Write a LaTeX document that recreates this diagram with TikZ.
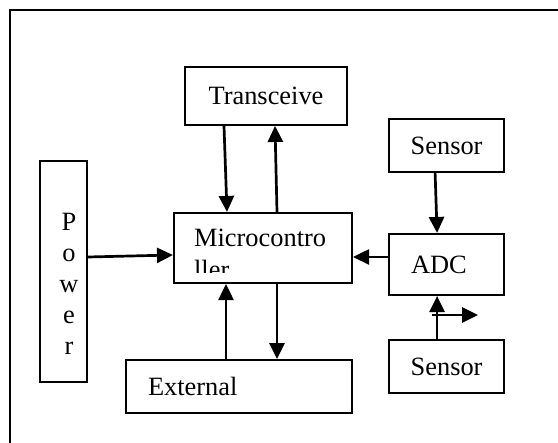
\documentclass[tikz,border=0pt]{standalone}
\usepackage{fontspec}
\setmainfont{Liberation Serif}
\usepackage{tikz}
\usetikzlibrary{positioning, arrows.meta}

\begin{document}
\begin{tikzpicture}[
        x=1pt, y=-1pt,
        block/.style={rectangle, draw=black, line width=2.1pt, fill=white, align=center, font=\fontsize{26.4pt}{31pt}\selectfont},
        leftblock/.style={block, align=left, inner xsep=22pt},
        arrow/.style={-{Triangle[length=16pt, width=15pt]}, line width=2.7pt, draw=black},
        frame/.style={line width=2pt, draw=black}
    ]
        \useasboundingbox (0,0) rectangle (558,443);
        \draw[frame] (10,443) -- (10,10) -- (558,10);

        % --- NODES ---
        \node[block, minimum width=178pt, minimum height=70pt] (mcu) at (263,248) {};
        \node[block, minimum width=162pt, minimum height=58pt, above=86pt of mcu, xshift=3pt] (trx) {Transceive};
        \node[block, minimum width=47pt, minimum height=221pt, left=85pt of mcu, yshift=-23.5pt] (power) {};
        \node[leftblock, text width=71pt, minimum height=61pt, right=35pt of mcu, yshift=-16.5pt] (adc) {ADC};
        \node[block, minimum width=115pt, minimum height=53pt, above=60pt of adc] (sensa) {Sensor};
        \node[block, minimum width=115pt, minimum height=53pt, below=43pt of adc] (sensb) {Sensor};
        \node[leftblock, text width=182pt, minimum height=53pt, below=75pt of mcu, xshift=-24pt] (ext) {External};

        % --- TEXT INSIDE TALL / CLIPPED BOXES ---
        \node[anchor=north, align=center, inner sep=0pt, font=\fontsize{26.4pt}{31pt}\selectfont]
            (powertext) at ([xshift=5.5pt, yshift=-53.5pt]power.north) {P\\o\\w\\e\\r};
        \begin{scope}
            \clip (mcu.north west) rectangle ([yshift=12pt]mcu.south east);
            \node[anchor=north west, align=left, inner sep=0pt, font=\fontsize{26.4pt}{32pt}\selectfont]
                (mcutext) at ([xshift=21pt, yshift=-17pt]mcu.north west) {Microcontro\\ller};
        \end{scope}

        % --- ARROWS ---
        % Transceiver link
        \draw[arrow] ([xshift=-42pt]trx.south) -- ([xshift=-36pt]mcu.north);
        \draw[arrow] ([xshift=14pt]mcu.north) -- ([xshift=9pt]trx.south);

        % Power and ADC into the controller
        \draw[arrow] ([yshift=14.5pt]power.east) -- ([yshift=-7pt]mcu.west);
        \draw[arrow] ([yshift=7.5pt]adc.west) -- ([yshift=-9pt]mcu.east);

        % Sensors into the ADC
        \draw[arrow] ([xshift=-11.5pt]sensa.south) -- ([xshift=-9.5pt]adc.north);
        \draw[arrow] ([xshift=-9.5pt]sensb.north) -- ([xshift=-9.5pt]adc.south);

        % External link
        \draw[arrow] ([xshift=-13pt]ext.north) -- ([xshift=-37pt]mcu.south);
        \draw[arrow] ([xshift=14pt]mcu.south) -- ([xshift=38pt]ext.north);

        % Side output
        \coordinate (outA) at (432,315);
        \coordinate (outB) at (478,315);
        \draw[arrow] (outA) -- (outB);

    \end{tikzpicture}
\end{document}
